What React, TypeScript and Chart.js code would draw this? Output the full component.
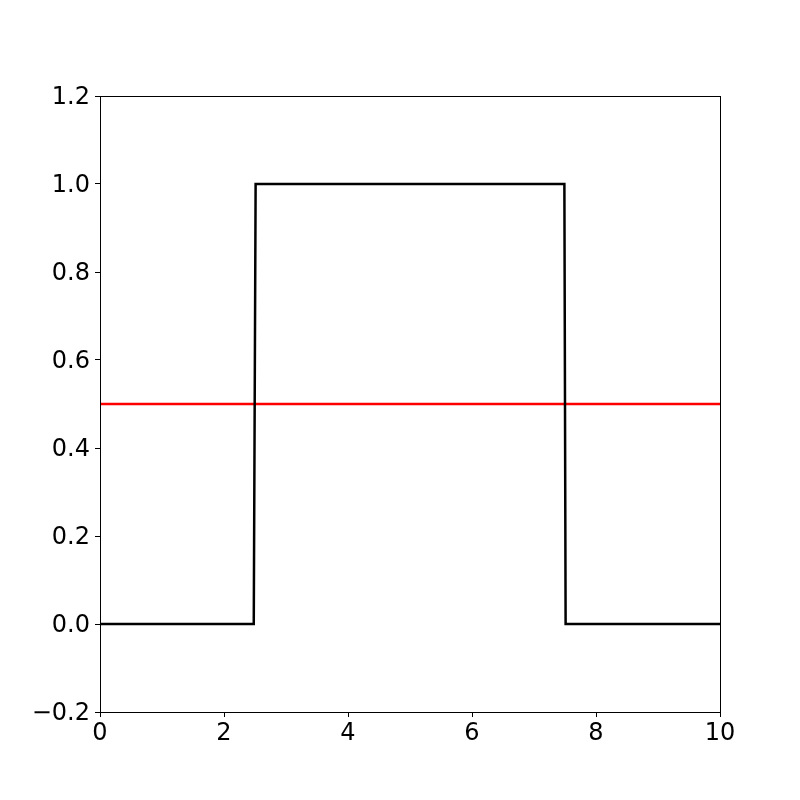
import React, { useEffect, useRef } from "react";
import { Chart, registerables } from "chart.js";

Chart.register(...registerables);

const signalX = [0, 2.48, 2.51, 7.49, 7.51, 10];
const signalY = [0, 0, 1, 1, 0, 0];
const thresholdX = [0, 10];
const thresholdY = [0.5, 0.5];
const xTicks = [0, 2, 4, 6, 8, 10];
const yTicks = [-0.2, 0, 0.2, 0.4, 0.6, 0.8, 1.0, 1.2];

const frame = {
  id: "frame",
  afterDraw(chart: any) {
    const { ctx, chartArea } = chart;
    ctx.save();
    ctx.strokeStyle = "#000";
    ctx.lineWidth = 1;
    ctx.strokeRect(
      Math.round(chartArea.left) + 0.5,
      Math.round(chartArea.top) + 0.5,
      Math.round(chartArea.right - chartArea.left),
      Math.round(chartArea.bottom - chartArea.top)
    );
    ctx.restore();
  },
};

export default function App() {
  const ref = useRef<HTMLCanvasElement>(null);
  useEffect(() => {
    const font = { family: "DejaVu Sans", size: 24 };
    const chart = new Chart(ref.current!, {
      type: "line",
      data: {
        datasets: [
          {
            data: signalX.map((x, i) => ({ x, y: signalY[i] })),
            borderColor: "#000000",
            borderWidth: 2.5,
            pointRadius: 0,
            tension: 0,
          },
          {
            data: thresholdX.map((x, i) => ({ x, y: thresholdY[i] })),
            borderColor: "#ff0000",
            borderWidth: 2.5,
            pointRadius: 0,
            tension: 0,
          },
        ],
      },
      options: {
        animation: false,
        responsive: false,
        layout: { padding: { top: 96, right: 80, left: 0, bottom: 0 } },
        plugins: { legend: { display: false }, tooltip: { enabled: false } },
        scales: {
          x: {
            type: "linear",
            min: 0,
            max: 10,
            afterFit: (s: any) => {
              s.height = 88;
            },
            afterBuildTicks: (s: any) => {
              s.ticks = xTicks.map((v) => ({ value: v }));
            },
            ticks: {
              color: "#000",
              font,
              padding: 2,
              maxRotation: 0,
              callback: (v: any) => String(v),
            },
            grid: {
              drawOnChartArea: false,
              drawTicks: true,
              tickLength: 5,
              tickColor: "#000",
            },
            border: { display: true, color: "#000", width: 1 },
          },
          y: {
            type: "linear",
            min: -0.2,
            max: 1.2,
            afterFit: (s: any) => {
              s.width = 100;
            },
            afterBuildTicks: (s: any) => {
              s.ticks = yTicks.map((v) => ({ value: v }));
            },
            ticks: {
              color: "#000",
              font,
              padding: 5,
              labelOffset: 2,
              callback: (v: any) => {
                const n = Number(v);
                const s = Math.abs(n).toFixed(1);
                return n < -1e-9 ? "\u2212" + s : s;
              },
            },
            grid: {
              drawOnChartArea: false,
              drawTicks: true,
              tickLength: 5,
              tickColor: "#000",
            },
            border: { display: true, color: "#000", width: 1 },
          },
        },
      },
      plugins: [frame],
    });
    return () => chart.destroy();
  }, []);
  return (
    <div style={{ position: "fixed", left: 0, top: 0, width: 800, height: 800, background: "#fff" }}>
      <canvas ref={ref} width={800} height={800} style={{ width: 800, height: 800 }} />
    </div>
  );
}
